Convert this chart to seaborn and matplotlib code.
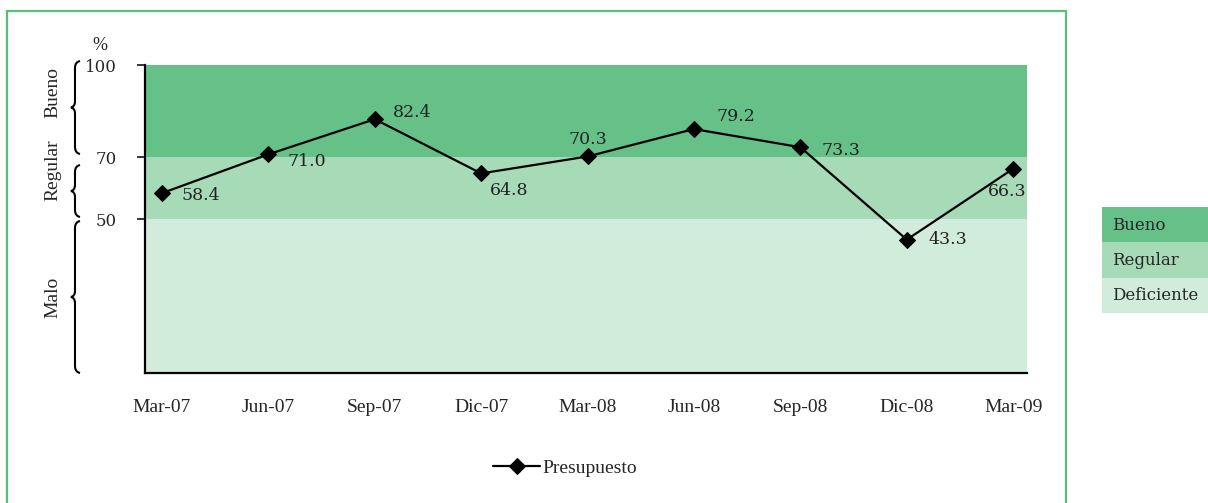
import numpy as np
import matplotlib
matplotlib.use("Agg")
import matplotlib.pyplot as plt
import seaborn as sns
from matplotlib.path import Path
from matplotlib.patches import PathPatch, Rectangle

# data
periods = ["Mar-07", "Jun-07", "Sep-07", "Dic-07", "Mar-08",
           "Jun-08", "Sep-08", "Dic-08", "Mar-09"]
presupuesto = [58.4, 71.0, 82.4, 64.8, 70.3, 79.2, 73.3, 43.3, 66.3]
y_ticks = [50, 70, 100]
band_names = ["Bueno", "Regular", "Deficiente"]
band_limits = [(70, 100), (50, 70), (0, 50)]
bracket_names = ["Bueno", "Regular", "Malo"]

band_colors = ["#66c189", "#a7dbb8", "#d2ecdc"]
frame_color = "#5bbd7d"
# label offsets in points (dx, dy, ha)
label_offsets = [(14, -2, "left"), (14, -5, "left"), (13, 5, "left"),
                 (6, -12, "left"), (0, 12, "center"), (16, 9, "left"),
                 (15, -2, "left"), (16, 0, "left"), (-4, -16, "center")]

sns.set_style("white")
plt.rcParams["font.family"] = ["DejaVu Serif", "DejaVu Sans"]

W, H = 1208, 503
fig = plt.figure(figsize=(W / 100, H / 100), dpi=100)
x0, x1, y0, y1 = 145, 1027, 65, 373
ax = fig.add_axes([x0 / W, 1 - y1 / H, (x1 - x0) / W, (y1 - y0) / H])

for (lo, hi), c in zip(band_limits, band_colors):
    ax.axhspan(lo, hi, color=c, lw=0, zorder=0)

xs = np.arange(len(periods))
sns.lineplot(x=xs, y=presupuesto, ax=ax, color="black", lw=1.6,
             marker="D", markersize=8, markeredgecolor="black",
             label="Presupuesto", sort=False, zorder=3, legend=False)

for x, v, (dx, dy, ha) in zip(xs, presupuesto, label_offsets):
    ax.annotate(f"{v:.1f}", (x, v), xytext=(dx, dy), textcoords="offset points",
                ha=ha, va="center", fontsize=12.5, color="#222222")

ax.set_xlim(-0.16, len(periods) - 1 + 0.13)
ax.set_ylim(0, 100)
ax.set_yticks(y_ticks)
ax.set_yticklabels([str(t) for t in y_ticks], fontsize=12)
ax.set_xticks(xs)
ax.set_xticklabels(periods, family="Liberation Serif", fontsize=14)
ax.tick_params(axis="y", length=6, width=1.3, direction="out", pad=14, left=True)
ax.tick_params(axis="x", length=0, pad=19)
for s in ["top", "right"]:
    ax.spines[s].set_visible(False)
for s in ["left", "bottom"]:
    ax.spines[s].set_color("black")
    ax.spines[s].set_linewidth(1.6)
ax.set_xlabel("")
ax.set_ylabel("")

# % label
fig.text(100 / W, 1 - 45 / H, "%", fontsize=13, ha="center", va="center",
         family="Liberation Serif")


def px(x, y):
    return (x / W, 1 - y / H)


def brace(top, bot, xb=75, tip=71, hook=80):
    mid = (top + bot) / 2
    pts = [px(hook, top), px(xb, top + 1), px(xb, top + 7),
           px(xb, mid - 6), px(xb, mid - 1), px(tip, mid),
           px(xb, mid + 1), px(xb, mid + 6),
           px(xb, bot - 7), px(xb, bot - 1), px(hook, bot)]
    codes = [Path.MOVETO, Path.CURVE3, Path.CURVE3,
             Path.LINETO, Path.CURVE3, Path.CURVE3,
             Path.CURVE3, Path.CURVE3,
             Path.LINETO, Path.CURVE3, Path.CURVE3]
    fig.add_artist(PathPatch(Path(pts, codes), transform=fig.transFigure,
                             fill=False, lw=1.5, color="black"))


brace_spans = [(61, 154), (165, 217), (221, 373)]
label_y = [93, 170, 297]
for (t, b), name, ly in zip(brace_spans, bracket_names, label_y):
    brace(t, b)
    fig.text(53 / W, 1 - ly / H, name, rotation=90, ha="center", va="center",
             fontsize=14, family="Liberation Serif")

# right-side band key
for i, (name, c) in enumerate(zip(band_names, band_colors)):
    top = 207 + i * 35.3
    fig.add_artist(Rectangle(px(1102, top + 35.3), 106 / W, 35.3 / H,
                             transform=fig.transFigure, color=c, lw=0))
    fig.text(1112 / W, 1 - (top + 18) / H, name, ha="left", va="center",
             fontsize=12)

# outer frame
fig.add_artist(Rectangle(px(7, 520), (1066 - 7) / W, (520 - 11) / H,
                         transform=fig.transFigure, fill=False,
                         edgecolor=frame_color, lw=1.6))

handles, labels = ax.get_legend_handles_labels()
fig.legend(handles, labels, loc="center", bbox_to_anchor=(565 / W, 1 - 468 / H),
           frameon=False, handlelength=2.4, handletextpad=0.1,
           prop={"family": "Liberation Serif", "size": 14})

fig.savefig("out.png", dpi=100)
